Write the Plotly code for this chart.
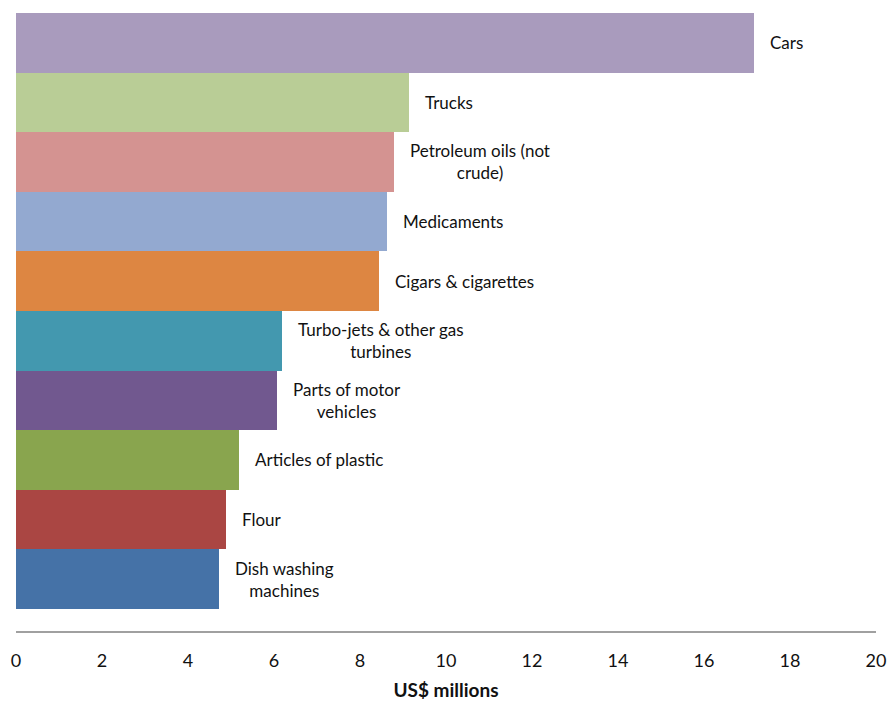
import plotly.graph_objects as go

# Data (bottom to top)
categories = ["Dish washing machines", "Flour", "Articles of plastic", "Parts of motor vehicles",
              "Turbo-jets & other gas turbines", "Cigars & cigarettes", "Medicaments",
              "Petroleum oils (not crude)", "Trucks", "Cars"]
values = [4.72, 4.88, 5.18, 6.07, 6.19, 8.44, 8.63, 8.79, 9.14, 17.16]
label_text = ["Dish washing<br>machines", "Flour", "Articles of plastic", "Parts of motor<br>vehicles",
              "Turbo-jets & other gas<br>turbines", "Cigars & cigarettes", "Medicaments",
              "Petroleum oils (not<br>crude)", "Trucks", "Cars"]
colors = ["#4572A7", "#AA4643", "#89A54E", "#71588F", "#4398AF", "#DD8642", "#93A9D0",
          "#D49391", "#B9CD96", "#A99BBD"]
x_ticks = [0, 2, 4, 6, 8, 10, 12, 14, 16, 18, 20]

FONT = "Lato, Carlito, Calibri, sans-serif"

fig = go.Figure(go.Bar(
    x=values, y=categories, orientation="h",
    marker=dict(color=colors, line=dict(width=0)),
    hoverinfo="x+y",
))

for c, v, t in zip(categories, values, label_text):
    fig.add_annotation(x=v, y=c, text=t, xanchor="left", xshift=14, showarrow=False,
                       align="center", font=dict(family=FONT, size=17, color="#111111"))

fig.update_layout(
    width=889, height=701,
    margin=dict(l=16, r=13, t=13, b=70),
    paper_bgcolor="white", plot_bgcolor="white",
    bargap=0, showlegend=False,
    font=dict(family=FONT, size=17, color="#111111"),
)
fig.update_xaxes(
    range=[0, 20], tickvals=x_ticks, showgrid=False, zeroline=False, automargin=False,
    showline=True, linecolor="#A0A0A0", linewidth=2,
    ticks="outside", ticklen=0, ticklabelstandoff=12,
    tickfont=dict(family=FONT, size=18, color="#111111"),
    title=dict(text="<b>US$ millions</b>", font=dict(family=FONT, size=19, color="#111111"), standoff=15),
)
fig.update_yaxes(
    categoryorder="array", categoryarray=categories, automargin=False,
    range=[-0.87, 9.5], showticklabels=False, showgrid=False, zeroline=False, showline=False,
)

# remove the browser's default 8px body margin so the figure fills the window exactly
fig.write_html("out.html", config={"displayModeBar": False},
               post_script="document.body.style.margin='0';document.body.style.overflow='hidden';")
